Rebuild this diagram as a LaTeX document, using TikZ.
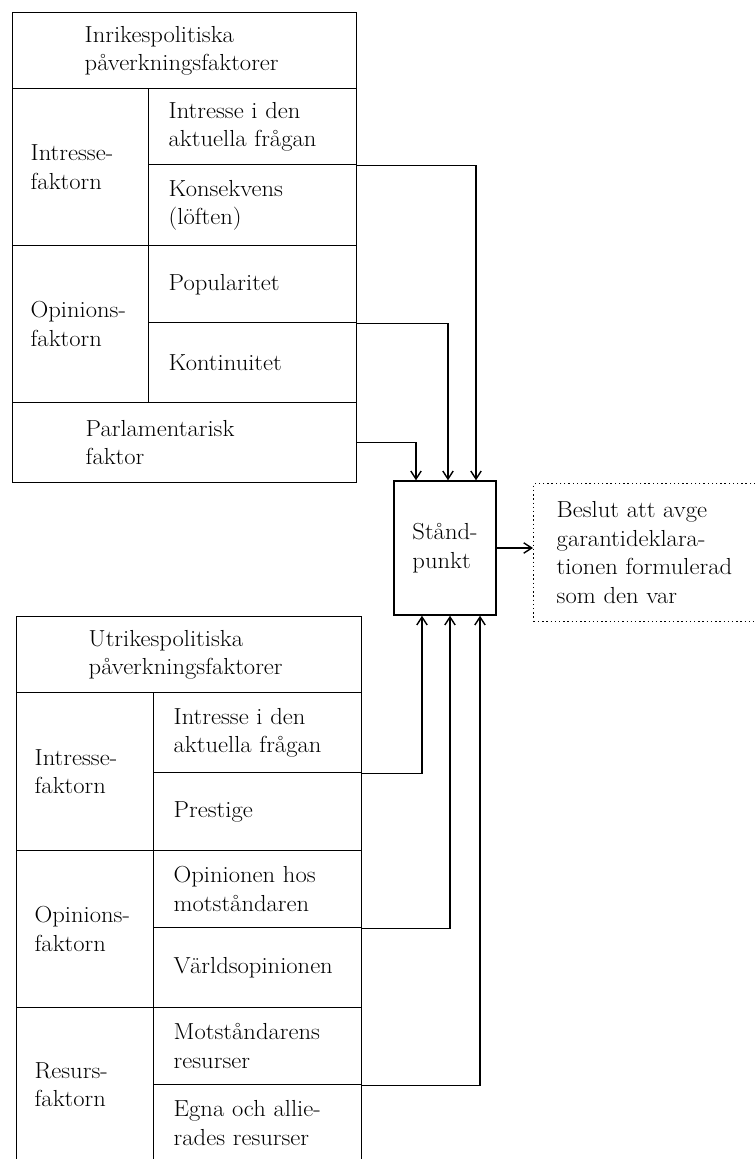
\documentclass[tikz,border=0pt]{standalone}
\usepackage{fontspec}
\setmainfont{Latin Modern Roman}[FakeStretch=1.06]
\usepackage{tikz}
\usetikzlibrary{arrows.meta}

\begin{document}
\begin{tikzpicture}[x=0.025cm, y=-0.025cm, >={Straight Barb[length=2mm,width=2.6mm]},
  txt/.style={font=\fontsize{16.5}{20.3}\selectfont},
  cell/.style={draw, line width=1pt, anchor=north west, inner xsep=0.5cm, inner ysep=0pt, align=left, txt},
  grp/.style={cell, inner xsep=0.45cm, text width=2.5cm},
  sub/.style={cell, text width=4.2cm},
  link/.style={->, line width=1pt}]
  \useasboundingbox (0,0) rectangle (755,1159);

  % Inrikespolitiska faktorer
  \node[cell, inner xsep=1.8cm, text width=5cm, minimum height=1.9cm] (ih) at (12,12) {Inrikespolitiska\\påverkningsfaktorer};
  \node[grp, minimum height=3.925cm] (i1) at (12,88) {Intresse-\\faktorn};
  \node[sub, minimum height=1.9cm] (i2) at (148,88) {Intresse i den\\aktuella frågan};
  \node[sub, minimum height=2.025cm] (i3) at (148,164) {Konsekvens\\(löften)};
  \node[grp, minimum height=3.925cm] (i4) at (12,245) {Opinions-\\faktorn};
  \node[sub, minimum height=1.925cm] (i5) at (148,245) {Popularitet};
  \node[sub, minimum height=2cm] (i6) at (148,322) {Kontinuitet};
  \node[cell, inner xsep=1.825cm, text width=4.95cm, minimum height=2cm] (i7) at (12,402) {Parlamentarisk\\faktor};

  % Utrikespolitiska faktorer
  \node[cell, inner xsep=1.8cm, text width=5.025cm, minimum height=1.9cm] (uh) at (16,616) {Utrikespolitiska\\påverkningsfaktorer};
  \node[grp, text width=2.525cm, minimum height=3.95cm] (u1) at (16,692) {Intresse-\\faktorn};
  \node[sub, minimum height=2cm] (u2) at (153,692) {Intresse i den\\aktuella frågan};
  \node[sub, minimum height=1.95cm] (u3) at (153,772) {Prestige};
  \node[grp, text width=2.525cm, minimum height=3.925cm] (u4) at (16,850) {Opinions-\\faktorn};
  \node[sub, minimum height=1.925cm] (u5) at (153,850) {Opinionen hos\\motståndaren};
  \node[sub, minimum height=2cm] (u6) at (153,927) {Världsopinionen};
  \node[grp, text width=2.525cm, minimum height=3.85cm] (u7) at (16,1007) {Resurs-\\faktorn};
  \node[sub, minimum height=1.925cm] (u8) at (153,1007) {Motståndarens\\resurser};
  \node[sub, minimum height=1.925cm] (u9) at (153,1084) {Egna och allie-\\rades resurser};

  % Standpunkt och beslut
  \node[draw, line width=1pt, minimum width=2.55cm, minimum height=3.35cm, align=left, txt] (stand) at (445,548) {Stånd-\\punkt};
  \node[draw, dotted, line width=1pt, anchor=north west, minimum height=3.45cm, inner xsep=0.575cm, text width=4.85cm, align=left, txt] (beslut) at (533,483) {Beslut att avge\\garantideklara-\\tionen formulerad\\som den var};

  % Pilar
  \draw[link] (i2.south east) -| ([xshift=0.775cm]stand.north);
  \draw[link] (i5.south east) -| ([xshift=0.075cm]stand.north);
  \draw[link] (i7.east) -| ([xshift=-0.725cm]stand.north);
  \draw[link] (u2.south east) -| ([xshift=-0.575cm]stand.south);
  \draw[link] (u5.south east) -| ([xshift=0.125cm]stand.south);
  \draw[link] (u8.south east) -| ([xshift=0.875cm]stand.south);
  \draw[link] (stand.east) -- (stand.east -| beslut.west);
\end{tikzpicture}
\end{document}
